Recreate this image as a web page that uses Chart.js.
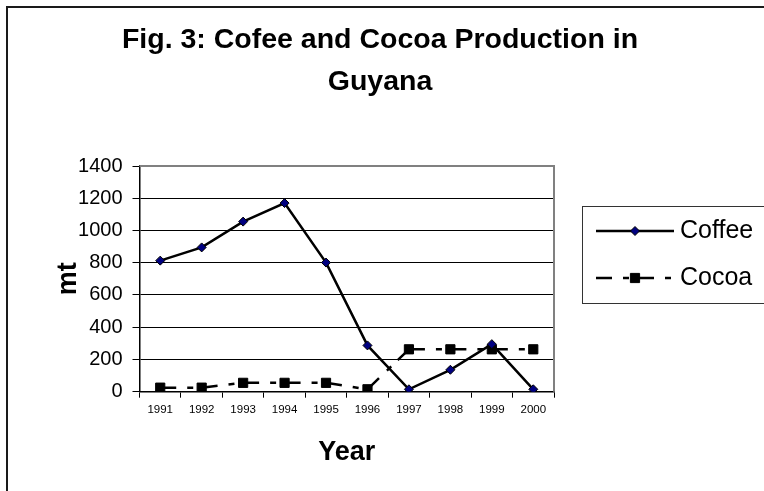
<!DOCTYPE html>
<html>
<head>
<meta charset="utf-8">
<style>
  html, body { margin: 0; padding: 0; background: #fff; }
  #wrap { width: 764px; height: 491px; }
</style>
<script src="https://cdn.jsdelivr.net/npm/chart.js@4.4.1/dist/chart.umd.min.js"></script>
</head>
<body>
<div id="wrap"><canvas id="prod" width="764" height="491"></canvas></div>
<script>
// years on the x axis
const years = ["1991", "1992", "1993", "1994", "1995", "1996", "1997", "1998", "1999", "2000"];
// production in mt
const coffee = [813, 895, 1055, 1170, 801, 287, 15, 136, 295, 15];
const cocoa = [25, 25, 55, 55, 55, 15, 263, 263, 263, 263];
const yTicks = [0, 200, 400, 600, 800, 1000, 1200, 1400];
const titleLines = ["Fig. 3: Cofee and Cocoa Production in", "Guyana"];

const FONT = "'Liberation Sans', Arial, sans-serif";

// outer frame, title and grey plot-area border
const framePlugin = {
    id: "frame",
    beforeDraw(chart) {
        const c = chart.ctx;
        c.save();
        c.fillStyle = "#fff";
        c.fillRect(0, 0, chart.width, chart.height);
        c.strokeStyle = "#1a1a1a";
        c.lineWidth = 2;
        c.strokeRect(7, 7, 820, 560);
        // title is centred on the whole chart box, not the plot area
        c.fillStyle = "#000";
        c.font = "bold 28.5px " + FONT;
        c.textAlign = "center";
        c.textBaseline = "middle";
        titleLines.forEach((t, i) => c.fillText(t, 380, 40 + i * 42));
        c.restore();
    },
    afterDatasetsDraw(chart) {
        const a = chart.chartArea;
        const c = chart.ctx;
        c.save();
        c.strokeStyle = "#808080";
        c.lineWidth = 2;
        c.beginPath();
        c.moveTo(a.left, a.top);
        c.lineTo(a.right, a.top);
        c.lineTo(a.right, a.bottom);
        c.stroke();
        c.restore();
    },
};

// Excel-style legend: line sample with the marker in the middle
const legendBoxPlugin = {
    id: "legendBox",
    afterDraw(chart) {
        const c = chart.ctx;
        c.save();
        c.strokeStyle = "#333";
        c.lineWidth = 1;
        c.strokeRect(582.5, 206.5, 220, 97);
        const rows = [231, 278];
        chart.data.datasets.forEach((ds, i) => {
            const y = rows[i];
            c.strokeStyle = ds.borderColor;
            c.lineWidth = ds.borderWidth;
            c.setLineDash(ds.borderDash || []);
            c.beginPath();
            c.moveTo(596, y);
            c.lineTo(674, y);
            c.stroke();
            c.setLineDash([]);
            c.fillStyle = ds.pointBackgroundColor;
            c.strokeStyle = ds.pointBorderColor;
            c.lineWidth = ds.pointBorderWidth;
            Chart.helpers.drawPoint(c, { pointStyle: ds.pointStyle, radius: ds.pointRadius, rotation: 0, borderWidth: ds.pointBorderWidth }, 635, y);
            c.fillStyle = "#000";
            c.font = "25px " + FONT;
            c.textBaseline = "middle";
            c.textAlign = "left";
            c.fillText(ds.label, 680, y);
        });
        c.restore();
    },
};

new Chart(document.getElementById("prod"), {
    type: "line",
    data: {
        labels: years,
        datasets: [
            {
                label: "Coffee",
                data: coffee,
                borderColor: "#000",
                borderWidth: 2.5,
                pointStyle: "rectRot",
                pointRadius: 4.5,
                pointBackgroundColor: "#000080",
                pointBorderColor: "#000",
                pointBorderWidth: 1,
                tension: 0,
            },
            {
                label: "Cocoa",
                data: cocoa,
                borderColor: "#000",
                borderWidth: 2.5,
                borderDash: [16, 11, 6, 9],
                // tiny per-segment offset so each segment starts its own dash cycle (like Excel)
                segment: {
                    borderDashOffset: (ctx) => ctx.p0DataIndex * 0.0001,
                },
                pointStyle: "rect",
                pointRadius: 6.5,
                pointBackgroundColor: "#000",
                pointBorderColor: "#000",
                pointBorderWidth: 1,
                tension: 0,
            },
        ],
    },
    options: {
        responsive: false,
        animation: false,
        layout: { padding: { left: 8, right: 210, top: 166, bottom: 0 } },
        scales: {
            x: {
                offset: true,
                grid: {
                    offset: true,
                    drawOnChartArea: false,
                    color: "#000",
                    tickLength: 6,
                },
                border: { color: "#000", width: 1.5 },
                ticks: {
                    color: "#000",
                    font: { family: FONT, size: 11.5 },
                    padding: 5,
                    maxRotation: 0,
                    autoSkip: false,
                },
                title: {
                    display: true,
                    text: "Year",
                    color: "#000",
                    font: { family: FONT, size: 27, weight: "bold" },
                    padding: { top: 0, bottom: 22 },
                },
                afterFit(scale) { scale.height = 99.3; },
            },
            y: {
                min: 0,
                max: 1400,
                afterBuildTicks(scale) {
                    scale.ticks = yTicks.map((v) => ({ value: v }));
                },
                grid: {
                    color: (ctx) => (ctx.tick && ctx.tick.value === 1400 ? "#808080" : "#000"),
                    tickColor: "#000",
                    tickLength: 7,
                    lineWidth: 1,
                },
                border: { color: "#000", width: 1.5 },
                ticks: {
                    color: "#000",
                    font: { family: FONT, size: 20 },
                    padding: 10,
                    callback: (v) => String(v),
                },
                title: {
                    display: true,
                    text: "mt",
                    color: "#000",
                    font: { family: FONT, size: 27, weight: "bold" },
                    padding: { top: 44, bottom: 0 },
                },
                afterFit(scale) { scale.width = 131.5; },
            },
        },
        plugins: {
            legend: { display: false },
            tooltip: { enabled: false },
            title: { display: false },
        },
    },
    plugins: [framePlugin, legendBoxPlugin],
});
</script>
</body>
</html>
